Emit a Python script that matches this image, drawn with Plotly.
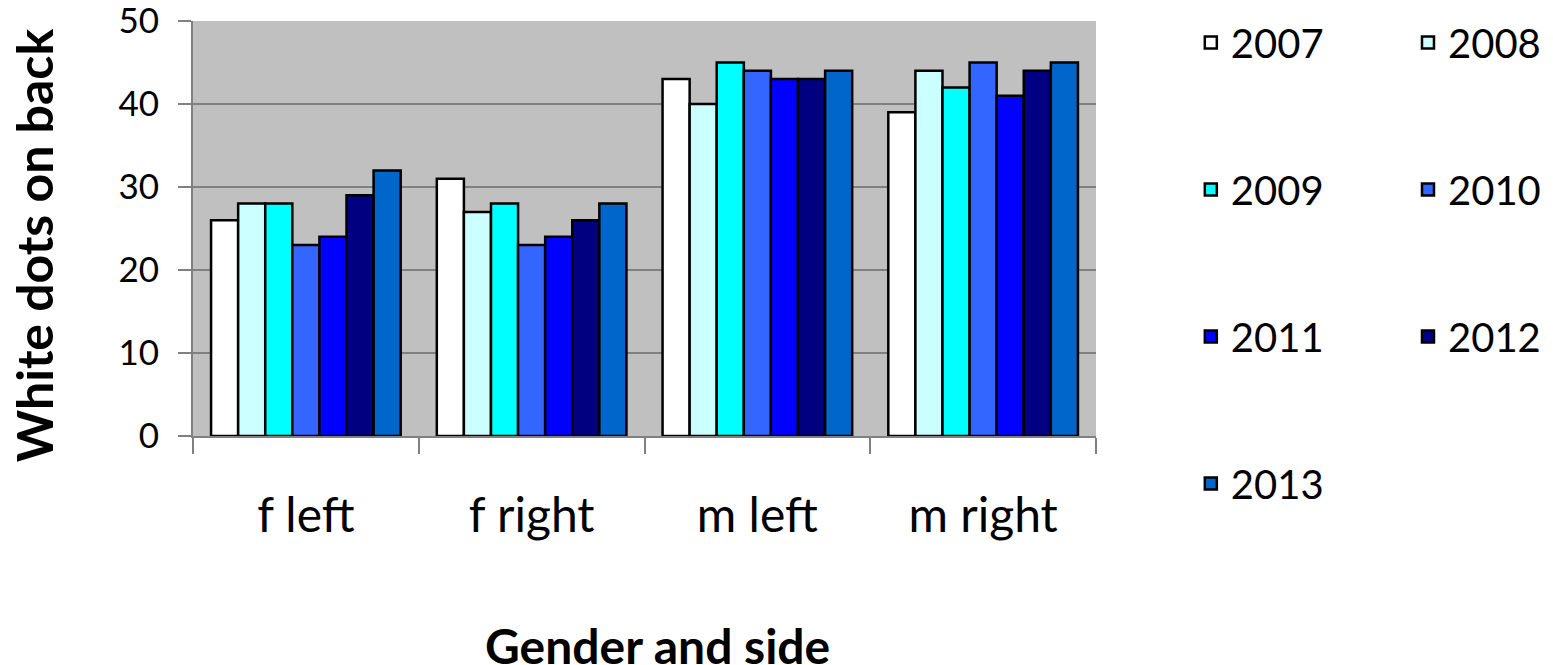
import plotly.graph_objects as go

categories = ["f left", "f right", "m left", "m right"]
years = ["2007", "2008", "2009", "2010", "2011", "2012", "2013"]
v2007 = [26, 31, 43, 39]
v2008 = [28, 27, 40, 44]
v2009 = [28, 28, 45, 42]
v2010 = [23, 23, 44, 45]
v2011 = [24, 24, 43, 41]
v2012 = [29, 26, 43, 44]
v2013 = [32, 28, 44, 45]
series = [v2007, v2008, v2009, v2010, v2011, v2012, v2013]
colors = ["#FFFFFF", "#CCFFFF", "#00FFFF", "#3366FF", "#0000FF", "#000080", "#0066CC"]
x_title = "Gender and side"
y_title = "White dots on back"

FONT = "Lato, Carlito, 'Liberation Sans', sans-serif"

fig = go.Figure()
for i, (yr, vals, col) in enumerate(zip(years, series, colors)):
    fig.add_trace(go.Bar(
        x=categories, y=vals, name=yr,
        marker=dict(color=col, line=dict(color="black", width=2.5)),
        legend="legend" if i % 2 == 0 else "legend2",
        legendgroup=yr,
    ))

legend_common = dict(
    font=dict(family=FONT, size=40, color="black"),
    tracegroupgap=92,
    bgcolor="rgba(0,0,0,0)",
    yanchor="top", y=1.0265,
    xanchor="left",
    itemwidth=30,
    maxheight=650,
)

# page body has an 8px default margin, so the figure is 8px smaller than the window
fig.update_layout(
    width=1545, height=657,
    margin=dict(l=185, r=457, t=13, b=229, autoexpand=False),
    paper_bgcolor="white",
    plot_bgcolor="#C0C0C0",
    barmode="group",
    bargap=0.16,
    bargroupgap=0,
    font=dict(family=FONT, color="black"),
    legend=dict(x=1.105, **legend_common),
    legend2=dict(x=1.3455, **legend_common),
    xaxis=dict(
        type="category",
        showline=True, linecolor="#808080", linewidth=2,
        ticks="outside", tickson="boundaries", ticklen=16,
        tickcolor="#808080", tickwidth=2,
        tickfont=dict(family=FONT, size=48, color="black"),
        ticklabelstandoff=36,
        showgrid=False,
    ),
    yaxis=dict(
        range=[0, 50], dtick=10,
        showgrid=True, gridcolor="#808080", gridwidth=2,
        showline=True, linecolor="#808080", linewidth=2,
        ticks="outside", ticklen=13, tickcolor="#808080", tickwidth=2,
        tickfont=dict(family=FONT, size=35, color="black"),
        ticklabelstandoff=12,
        ticklabeloverflow="allow",
        zeroline=False,
    ),
    annotations=[
        dict(text="<b>%s</b>" % x_title, xref="paper", yref="paper",
             x=0.514, y=-0.506, xanchor="center", yanchor="middle",
             showarrow=False, font=dict(family=FONT, size=48, color="black")),
        dict(text="<b>%s</b>" % y_title, xref="paper", yref="paper",
             x=-0.176, y=0.46, xanchor="center", yanchor="middle", textangle=-90,
             showarrow=False, font=dict(family=FONT, size=50, color="black")),
    ],
)

fig.write_html("out.html")
